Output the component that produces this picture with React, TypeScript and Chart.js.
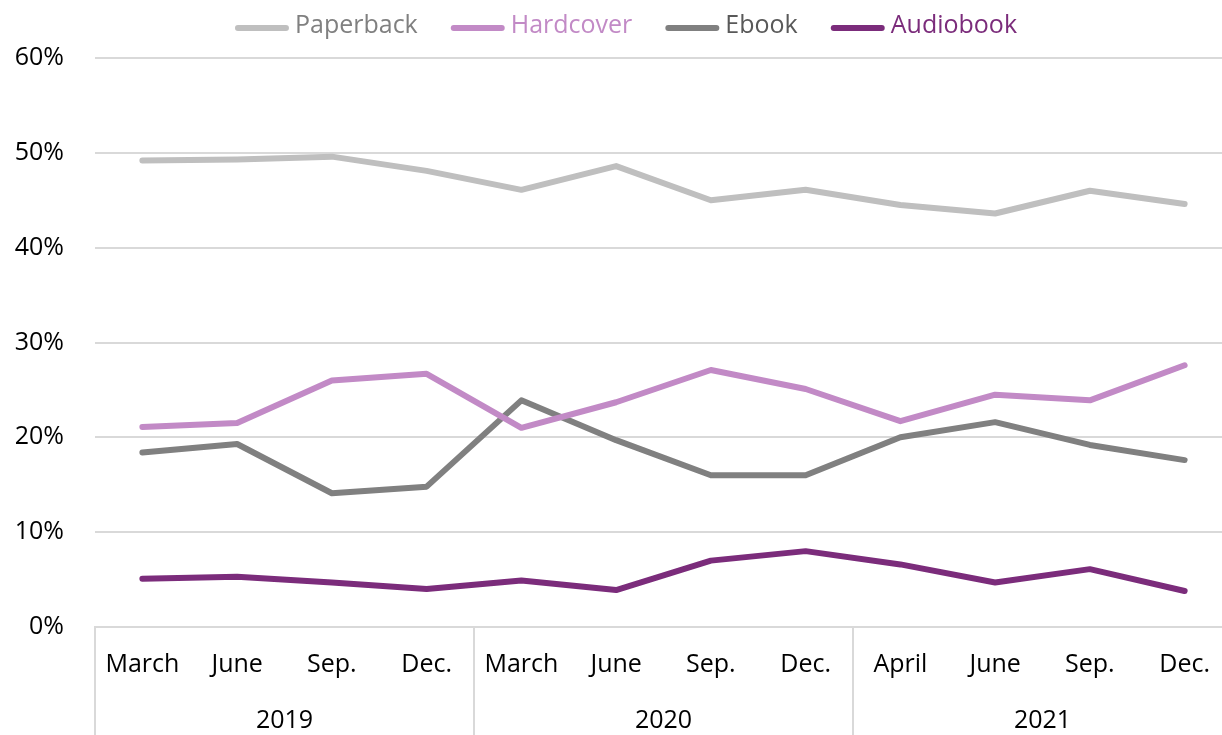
import React, { useEffect, useRef } from 'react';
import { Chart, registerables } from 'chart.js';

Chart.register(...registerables);

const months = ['March', 'June', 'Sep.', 'Dec.', 'March', 'June', 'Sep.', 'Dec.', 'April', 'June', 'Sep.', 'Dec.'];
const years = ['2019', '2020', '2021'];
const monthsPerYear = [4, 4, 4];

const paperback = [49.2, 49.3, 49.6, 48.1, 46.1, 48.6, 45.0, 46.1, 44.5, 43.6, 46.0, 44.6];
const hardcover = [21.1, 21.5, 26.0, 26.7, 21.0, 23.7, 27.1, 25.1, 21.7, 24.5, 23.9, 27.6];
const ebook = [18.4, 19.3, 14.1, 14.8, 23.9, 19.7, 16.0, 16.0, 20.0, 21.6, 19.2, 17.6];
const audiobook = [5.1, 5.3, 4.7, 4.0, 4.9, 3.9, 7.0, 8.0, 6.6, 4.7, 6.1, 3.8];

const yTicks = [0, 10, 20, 30, 40, 50, 60];

const FONT = '"Open Sans", sans-serif';
const FONT_SIZE = 25;

const yearGroupsPlugin = {
  id: 'yearGroups',
  afterDraw(chart: any) {
    const xs = chart.scales.x;
    const ctx = chart.ctx;
    const step = xs.getPixelForValue(1) - xs.getPixelForValue(0);
    const top = chart.chartArea.bottom;
    const bottom = chart.height;
    ctx.save();
    ctx.strokeStyle = '#d9d9d9';
    ctx.lineWidth = 2;
    ctx.font = `${FONT_SIZE}px ${FONT}`;
    ctx.fillStyle = '#000000';
    ctx.textAlign = 'center';
    ctx.textBaseline = 'middle';
    let idx = 0;
    years.forEach((yr, i) => {
      const left = xs.getPixelForValue(idx) - step / 2;
      const right = xs.getPixelForValue(idx + monthsPerYear[i] - 1) + step / 2;
      ctx.beginPath();
      ctx.moveTo(left, top);
      ctx.lineTo(left, bottom);
      ctx.stroke();
      if (i === years.length - 1) {
        ctx.beginPath();
        ctx.moveTo(right, top);
        ctx.lineTo(right, bottom);
        ctx.stroke();
      }
      ctx.fillText(yr, (left + right) / 2, top + 94);
      idx += monthsPerYear[i];
    });
    ctx.restore();
  },
};

const topLegendPlugin = {
  id: 'topLegend',
  afterDraw(chart: any) {
    const ctx = chart.ctx;
    ctx.save();
    ctx.font = `${FONT_SIZE}px ${FONT}`;
    const items = chart.data.datasets.map((ds: any) => ({
      text: ds.label,
      line: ds.borderColor,
      color: ds.legendTextColor,
    }));
    const lineLen = 54;
    const gap = 6;
    const itemGap = 33;
    const widths = items.map((it: any) => lineLen + gap + ctx.measureText(it.text).width);
    const total = widths.reduce((a: number, b: number) => a + b, 0) + itemGap * (items.length - 1);
    let x = 626 - total / 2;
    const yText = 26;
    const yLine = 28;
    items.forEach((it: any, i: number) => {
      ctx.strokeStyle = it.line;
      ctx.lineWidth = 6;
      ctx.lineCap = 'round';
      ctx.beginPath();
      ctx.moveTo(x + 3, yLine);
      ctx.lineTo(x + lineLen - 3, yLine);
      ctx.stroke();
      ctx.fillStyle = it.color;
      ctx.textAlign = 'left';
      ctx.textBaseline = 'middle';
      ctx.fillText(it.text, x + lineLen + gap, yText);
      x += widths[i] + itemGap;
    });
    ctx.restore();
  },
};

export default function App() {
  const canvasRef = useRef<HTMLCanvasElement | null>(null);

  useEffect(() => {
    const canvas = canvasRef.current;
    if (!canvas) return;
    const mk = (label: string, data: number[], color: string, textColor: string) => ({
      label,
      data,
      borderColor: color,
      backgroundColor: color,
      legendTextColor: textColor,
      borderWidth: 6,
      borderCapStyle: 'round',
      borderJoinStyle: 'round',
      pointRadius: 0,
      pointHoverRadius: 0,
      tension: 0,
      fill: false,
    });
    const chart = new Chart(canvas, {
      type: 'line',
      data: {
        labels: months,
        datasets: [
          mk('Paperback', paperback, '#bfbfbf', '#808080'),
          mk('Hardcover', hardcover, '#c28ac6', '#c28ac6'),
          mk('Ebook', ebook, '#808080', '#595959'),
          mk('Audiobook', audiobook, '#7b2c7b', '#7b2c7b'),
        ] as any,
      },
      options: {
        animation: false,
        responsive: false,
        devicePixelRatio: 1,
        layout: { padding: { top: 58, right: 8, left: 0, bottom: 0 } },
        plugins: {
          legend: { display: false },
          tooltip: { enabled: false },
        },
        scales: {
          x: {
            type: 'category',
            offset: true,
            grid: { display: false, drawTicks: false },
            border: { display: true, color: '#d9d9d9', width: 2 },
            ticks: {
              color: '#000000',
              font: { family: FONT, size: FONT_SIZE },
              padding: 23,
              maxRotation: 0,
              autoSkip: false,
            },
            afterFit: (s: any) => {
              s.height = 108;
            },
          },
          y: {
            min: yTicks[0],
            max: yTicks[yTicks.length - 1],
            afterBuildTicks: (s: any) => {
              s.ticks = yTicks.map((v) => ({ value: v }));
            },
            grid: { color: '#d9d9d9', lineWidth: 2, drawTicks: false },
            border: { display: false },
            ticks: {
              color: '#000000',
              font: { family: FONT, size: FONT_SIZE },
              padding: 31,
              callback: (v: any) => `${v}%`,
            },
            afterFit: (s: any) => {
              s.width = 95;
            },
          },
        },
      } as any,
      plugins: [yearGroupsPlugin, topLegendPlugin],
    });
    return () => chart.destroy();
  }, []);

  return (
    <div
      style={{
        position: 'fixed',
        left: 0,
        top: 0,
        width: 1222,
        height: 735,
        overflow: 'hidden',
        background: '#ffffff',
      }}
    >
      <canvas ref={canvasRef} width={1240} height={735} style={{ display: 'block', width: 1240, height: 735 }} />
    </div>
  );
}
